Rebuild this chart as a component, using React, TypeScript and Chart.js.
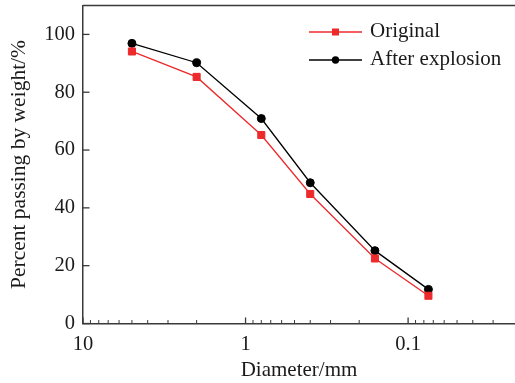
import React, { useEffect, useRef } from 'react';
import { Chart, registerables } from 'chart.js';

Chart.register(...registerables);

// ---- data ----
const DIAMETERS = [5, 2, 0.8, 0.4, 0.16, 0.075];
const ORIGINAL = [94.1, 85.3, 65.2, 44.8, 22.5, 9.6];
const AFTER_EXPLOSION = [96.9, 90.2, 70.9, 48.7, 25.2, 11.8];
const SERIES_LABELS = ['Original', 'After explosion'];
const X_LABEL_TICKS = [10, 1, 0.1];
const Y_TICKS = [0, 20, 40, 60, 80, 100];
const X_MIN = 0.022;
const X_MAX = 10;
const Y_MIN = 0;
const Y_MAX = 110;
const X_TITLE = 'Diameter/mm';
const Y_TITLE = 'Percent passing by weight/%';

// ---- styles ----
const RED = '#ec2a2c';
const BLACK = '#000000';
const AXIS_COLOR = '#3a3a3a';
const TEXT_COLOR = '#1a1a1a';
const FONT_FAMILY = '"Liberation Serif", "Times New Roman", serif';

const zeroPad = (scale: any) => {
  scale.paddingTop = 0;
  scale.paddingBottom = 0;
  scale.paddingLeft = 0;
  scale.paddingRight = 0;
};

const decorPlugin = {
  id: 'decor',
  afterDraw(chart: any) {
    const { ctx, chartArea: a, scales } = chart;
    const xs = scales.x;
    const ys = scales.y;
    ctx.save();
    ctx.strokeStyle = AXIS_COLOR;
    // top frame line
    ctx.lineWidth = 1.5;
    ctx.beginPath();
    ctx.moveTo(a.left, a.top);
    ctx.lineTo(a.right, a.top);
    ctx.stroke();
    // x ticks (inward), major + minor
    const eMin = Math.floor(Math.log10(X_MIN));
    const eMax = Math.ceil(Math.log10(X_MAX));
    for (let e = eMin; e <= eMax; e++) {
      for (let m = 1; m <= 9; m++) {
        const v = m * Math.pow(10, e);
        if (v < X_MIN || v > X_MAX) continue;
        const px = xs.getPixelForValue(v);
        const major = m === 1;
        ctx.lineWidth = major ? 1.3 : 1;
        ctx.beginPath();
        ctx.moveTo(px, a.bottom);
        ctx.lineTo(px, a.bottom - (major ? 6 : 3.5));
        ctx.stroke();
      }
    }
    // y ticks (inward)
    ctx.lineWidth = 1.3;
    Y_TICKS.forEach((v) => {
      const py = ys.getPixelForValue(v);
      ctx.beginPath();
      ctx.moveTo(a.left, py);
      ctx.lineTo(a.left + 6.5, py);
      ctx.stroke();
    });
    // legend
    chart.data.datasets.forEach((ds: any, i: number) => {
      const y = a.top + 26.5 + i * 28;
      const x0 = a.right - 206;
      const x1 = a.right - 153;
      const xm = (x0 + x1) / 2;
      ctx.strokeStyle = ds.borderColor;
      ctx.lineWidth = 1.3;
      ctx.beginPath();
      ctx.moveTo(x0, y);
      ctx.lineTo(x1, y);
      ctx.stroke();
      ctx.fillStyle = ds.backgroundColor;
      if (ds.pointStyle === 'rect') {
        ctx.fillRect(xm - 3.5, y - 3.5, 7, 7);
      } else {
        ctx.beginPath();
        ctx.arc(xm, y, 3.7, 0, Math.PI * 2);
        ctx.fill();
      }
      ctx.fillStyle = TEXT_COLOR;
      ctx.font = `21px ${FONT_FAMILY}`;
      ctx.textAlign = 'left';
      ctx.textBaseline = 'middle';
      ctx.fillText(ds.label, a.right - 145, y - 1);
    });
    ctx.restore();
  },
};

export default function App() {
  const canvasRef = useRef<HTMLCanvasElement | null>(null);

  useEffect(() => {
    if (!canvasRef.current) return;
    const chart = new Chart(canvasRef.current, {
      type: 'line',
      data: {
        datasets: [
          {
            label: SERIES_LABELS[0],
            data: DIAMETERS.map((x, i) => ({ x, y: ORIGINAL[i] })),
            borderColor: RED,
            backgroundColor: RED,
            borderWidth: 1.3,
            pointStyle: 'rect',
            pointRadius: 5,
            pointBorderWidth: 1,
            pointBorderColor: RED,
            pointBackgroundColor: RED,
            tension: 0,
          },
          {
            label: SERIES_LABELS[1],
            data: DIAMETERS.map((x, i) => ({ x, y: AFTER_EXPLOSION[i] })),
            borderColor: BLACK,
            backgroundColor: BLACK,
            borderWidth: 1.3,
            pointStyle: 'circle',
            pointRadius: 4,
            pointBorderWidth: 1,
            pointBorderColor: BLACK,
            pointBackgroundColor: BLACK,
            tension: 0,
          },
        ],
      },
      options: {
        animation: false,
        responsive: true,
        maintainAspectRatio: false,
        layout: { autoPadding: false, padding: { top: 5.5, right: 0, left: 0, bottom: 0 } },
        plugins: {
          legend: { display: false },
          tooltip: { enabled: false },
        },
        scales: {
          x: {
            type: 'logarithmic',
            reverse: true,
            min: X_MIN,
            max: X_MAX,
            afterBuildTicks: (scale: any) => {
              scale.ticks = X_LABEL_TICKS.map((v) => ({ value: v }));
            },
            afterFit: (scale: any) => {
              scale.height = 59.5;
              zeroPad(scale);
            },
            grid: { display: false, drawTicks: false },
            border: { display: true, color: AXIS_COLOR, width: 1.5 },
            ticks: {
              autoSkip: false,
              maxRotation: 0,
              padding: 9,
              color: TEXT_COLOR,
              font: { family: FONT_FAMILY, size: 20.5 },
              callback: (v: any) => String(Number(v)),
            },
            title: {
              display: true,
              text: X_TITLE,
              color: TEXT_COLOR,
              font: { family: FONT_FAMILY, size: 21 },
              padding: { top: 0, bottom: 0 },
            },
          },
          y: {
            type: 'linear',
            min: Y_MIN,
            max: Y_MAX,
            afterBuildTicks: (scale: any) => {
              scale.ticks = Y_TICKS.map((v) => ({ value: v }));
            },
            afterFit: (scale: any) => {
              scale.width = 83;
              zeroPad(scale);
            },
            grid: { display: false, drawTicks: false },
            border: { display: true, color: AXIS_COLOR, width: 1.5 },
            ticks: {
              autoSkip: false,
              padding: 8,
              color: TEXT_COLOR,
              font: { family: FONT_FAMILY, size: 20.5 },
            },
            title: {
              display: true,
              text: Y_TITLE,
              color: TEXT_COLOR,
              font: { family: FONT_FAMILY, size: 21.5 },
              padding: { top: 6, bottom: 0 },
            },
          },
        },
      },
      plugins: [decorPlugin],
    } as any);
    return () => chart.destroy();
  }, []);

  return (
    <div style={{ position: 'fixed', left: 0, top: 0, width: 515, height: 383, background: '#fff' }}>
      <canvas ref={canvasRef} />
    </div>
  );
}
